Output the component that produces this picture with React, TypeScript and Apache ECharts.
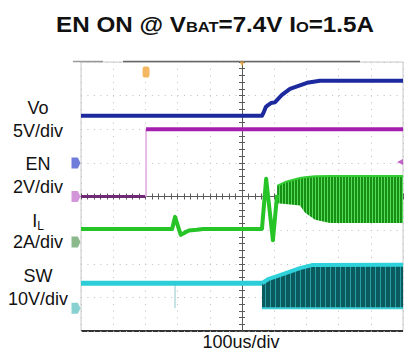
import React, { useEffect, useRef } from "react";
import * as echarts from "echarts";

const FONT = "'Liberation Sans', Arial, Helvetica, sans-serif";

// Horizontal axis: time in µs measured from the screen centre (100 µs/div, 10 div)
const TIME_MIN = -500;
const TIME_MAX = 500;
const TIME_PER_DIV = 100;
// Vertical axis: 8 divisions centred on 0
const DIV_HALF = 4;

// Channel scales (units per division) and ground-marker positions (div from centre)
const VO_SCALE = 5;
const VO_GROUND = 1.0;
const EN_SCALE = 2;
const EN_GROUND = 0.0;
const IL_SCALE = 2;
const IL_GROUND = -1.35;
const SW_SCALE = 10;
const SW_GROUND = -3.32;

// Vo (V)
const voTime = [-500, 62, 68, 74, 81, 90, 102, 124, 149, 202, 242, 500];
const voVolts = [7.0, 7.0, 7.6, 8.3, 8.6, 8.9, 9.0, 10.1, 11.0, 11.9, 12.2, 12.2];

// EN (V): low, rising edge, high
const enTime = [-500, -298, -298, 500];
const enVolts = [0, 0, 4.0, 4.0];
const enTrigLevel = 2.05;

// IL (A)
const ilTime = [-500, -217, -208, -200, -190, -178, -165, -140, -120, 62, 75, 96, 109];
const ilAmps = [0.77, 0.77, 1.49, 1.0, 0.42, 0.55, 0.68, 0.72, 0.77, 0.77, 3.75, 0.1, 2.8];
const ilBandTime = [109, 134, 180, 196, 227, 273, 500];
const ilBandTop = [3.33, 3.56, 3.8, 3.85, 3.9, 3.92, 3.92];
const ilBandBottom = [2.3, 2.25, 2.16, 1.73, 1.31, 1.13, 1.13];

// SW (V)
const swTime = [-500, 62];
const swVolts = [7.4, 7.4];
const swSpikeTime = [-208, -208];
const swSpikeVolts = [7.4, 0];
const swBandTime = [62, 81, 118, 180, 217, 500];
const swBandTop = [7.4, 8.6, 9.8, 11.9, 12.8, 12.9];
const swBandBottom = [0, 0, 0, 0, 0, 0];

// Trigger
const trigTime = -298;

const toDiv = (v: number, scale: number, ground: number) => ground + v / scale;

function pts(times: number[], vals: number[], scale: number, ground: number) {
  return times.map((t, i) => [t, toDiv(vals[i], scale, ground)]);
}

function stripe(w: number, bg: string, fg: string, fgW: number) {
  const c = document.createElement("canvas");
  c.width = w;
  c.height = 4;
  const g = c.getContext("2d")!;
  g.fillStyle = bg;
  g.fillRect(0, 0, w, 4);
  g.fillStyle = fg;
  g.fillRect(0, 0, fgW, 4);
  return c;
}

function band(times: number[], top: number[], bottom: number[], scale: number, ground: number, fill: any, z: number) {
  return {
    type: "custom",
    silent: true,
    z,
    clip: true,
    data: [[times[0], ground]],
    renderItem: (_p: any, api: any) => {
      const up = times.map((t, i) => api.coord([t, toDiv(top[i], scale, ground)]));
      const lo = times.map((t, i) => api.coord([t, toDiv(bottom[i], scale, ground)])).reverse();
      return { type: "polygon", shape: { points: up.concat(lo) }, style: { fill, stroke: null } };
    },
  };
}

function line(data: number[][], color: string, width: number, z = 3) {
  return {
    type: "line",
    data,
    symbol: "none",
    silent: true,
    z,
    lineStyle: { color, width, cap: "butt", join: "round" },
    animation: false,
  };
}

function marker(x: number, y: number, symbol: string, size: any, color: string, offset: number[], rotate = 0) {
  return {
    type: "scatter",
    data: [[x, y]],
    symbol,
    symbolSize: size,
    symbolOffset: offset,
    symbolRotate: rotate,
    itemStyle: { color },
    clip: false,
    silent: true,
    z: 6,
  };
}

export default function App() {
  const ref = useRef<HTMLDivElement>(null);
  useEffect(() => {
    const chart = echarts.init(ref.current!, undefined, { renderer: "svg" });
    const axisCommonX = {
      type: "value",
      min: TIME_MIN,
      max: TIME_MAX,
      interval: TIME_PER_DIV,
      axisLine: { onZero: true, lineStyle: { color: "#5a5a5a", width: 1 } },
      axisTick: { show: true, inside: true, length: 3, lineStyle: { color: "#5a5a5a" } },
      minorTick: { show: true, splitNumber: 5, length: 3, lineStyle: { color: "#5a5a5a" } },
      axisLabel: { show: false },
    };
    const axisCommonY = {
      type: "value",
      min: -DIV_HALF,
      max: DIV_HALF,
      interval: 1,
      axisLine: { onZero: true, lineStyle: { color: "#5a5a5a", width: 1 } },
      axisTick: { show: true, inside: true, length: 3, lineStyle: { color: "#5a5a5a" } },
      minorTick: { show: true, splitNumber: 5, length: 3, lineStyle: { color: "#5a5a5a" } },
      axisLabel: { show: false },
    };
    const ilFill = { image: stripe(3, "#178f17", "#55dd55", 1), repeat: "repeat" };
    const swFill = { image: stripe(5, "#0b5a5e", "#2a9ea6", 1), repeat: "repeat" };

    const enPts = pts(enTime, enVolts, EN_SCALE, EN_GROUND);

    const labelStyle = (text: string, x: number, y: number, rich?: any) => ({
      type: "text",
      silent: true,
      style: {
        text,
        x,
        y,
        align: "center",
        verticalAlign: "middle",
        font: `18px ${FONT}`,
        fill: "#111",
        rich,
      },
    });

    chart.setOption({
      animation: false,
      backgroundColor: "#ffffff",
      grid: {
        left: 81,
        right: 5,
        top: 62,
        bottom: 20,
        show: true,
        borderColor: "#c8c8c8",
        borderWidth: 1,
      },
      xAxis: [
        { ...axisCommonX, position: "bottom", splitLine: { show: true, lineStyle: { color: "#bcbcbc", width: 1, type: [1, 5.72] } } },
        { ...axisCommonX, position: "top", splitLine: { show: false } },
      ],
      yAxis: [
        { ...axisCommonY, position: "left", splitLine: { show: true, lineStyle: { color: "#bcbcbc", width: 1, type: [1, 5.44] } } },
        { ...axisCommonY, position: "right", splitLine: { show: false } },
      ],
      series: [
        // SW
        band(swBandTime, swBandTop, swBandBottom, SW_SCALE, SW_GROUND, swFill, 2),
        line(pts(swBandTime, swBandTop, SW_SCALE, SW_GROUND), "#2fd2da", 4),
        line(pts(swBandTime, swBandBottom, SW_SCALE, SW_GROUND), "#3ccfd6", 2),
        line(pts(swSpikeTime, swSpikeVolts, SW_SCALE, SW_GROUND), "#8fc7cc", 1),
        line(pts(swTime, swVolts, SW_SCALE, SW_GROUND), "#2ccdd6", 5),
        // IL
        band(ilBandTime, ilBandTop, ilBandBottom, IL_SCALE, IL_GROUND, ilFill, 2),
        line(pts(ilBandTime, ilBandTop, IL_SCALE, IL_GROUND), "#33cc33", 2),
        line(pts(ilTime, ilAmps, IL_SCALE, IL_GROUND), "#26c426", 4),
        // EN
        line(enPts.slice(0, 2), "#6e2a74", 3),
        line(enPts.slice(1, 3), "#e6bce6", 2),
        line(enPts.slice(2, 4), "#a41fae", 4),
        // Vo
        line(pts(voTime, voVolts, VO_SCALE, VO_GROUND), "#1c2a9e", 4),
        // ground markers
        marker(TIME_MIN, VO_GROUND, "path://M0,0H7L10,5L7,10H0Z", [9, 11], "#4b5bd0", [-5, 0]),
        marker(TIME_MIN, EN_GROUND, "path://M0,0H7L10,5L7,10H0Z", [9, 11], "#c77ccf", [-5, 0]),
        marker(TIME_MIN, IL_GROUND, "path://M0,0H7L10,5L7,10H0Z", [9, 11], "#6fa86f", [-5, 0]),
        marker(TIME_MIN, SW_GROUND, "path://M0,0H7L10,5L7,10H0Z", [9, 11], "#6cc6c6", [-5, 0]),
        // trigger markers
        marker(TIME_MAX, toDiv(enTrigLevel, EN_SCALE, EN_GROUND), "triangle", 6, "#b040b8", [-3, 0], 90),
        marker(trigTime, 3.7, "roundRect", [7, 11], "#f2a53a", [0, 0]),
        marker(0, DIV_HALF, "triangle", 5, "#f2a53a", [0, 2], 180),
      ],
      graphic: [
        { type: "line", silent: true, shape: { x1: 123, y1: 61.5, x2: 360, y2: 61.5 }, style: { stroke: "#666", lineWidth: 1.5 } },
        { type: "line", silent: true, shape: { x1: 73, y1: 61.5, x2: 103, y2: 61.5 }, style: { stroke: "#999", lineWidth: 1.5 } },
        { type: "line", silent: true, shape: { x1: 81, y1: 331, x2: 403, y2: 331 }, style: { stroke: "#333", lineWidth: 2 } },
        {
          type: "text",
          silent: true,
          x: 215,
          y: 22,
          scaleX: 1.1,
          style: {
            text: "{a|EN ON @ V}{b|BAT}{a|=7.4V I}{b|O}{a|=1.5A}",
            x: 0,
            y: 0,
            align: "center",
            verticalAlign: "middle",
            rich: {
              a: { fontFamily: FONT, fontSize: 22, fontWeight: "bold", fill: "#111", verticalAlign: "bottom", lineHeight: 26 },
              b: { fontFamily: FONT, fontSize: 15, fontWeight: "bold", fill: "#111", verticalAlign: "bottom", lineHeight: 26, padding: [0, 0, 1, 0] },
            },
          },
        },
        labelStyle("Vo", 38, 108),
        labelStyle("5V/div", 38, 131),
        labelStyle("EN", 38, 164),
        labelStyle("2V/div", 38, 187),
        {
          type: "text",
          silent: true,
          style: {
            text: "{a|I}{b|L}",
            x: 38,
            y: 219,
            align: "center",
            verticalAlign: "middle",
            rich: {
              a: { fontFamily: FONT, fontSize: 18, fill: "#111", verticalAlign: "bottom", lineHeight: 22 },
              b: { fontFamily: FONT, fontSize: 12, fill: "#111", verticalAlign: "bottom", lineHeight: 22, padding: [0, 0, -2, 0] },
            },
          },
        },
        labelStyle("2A/div", 38, 242),
        labelStyle("SW", 38, 276),
        labelStyle("10V/div", 38, 299),
        labelStyle("100us/div", 241, 342),
      ],
    });
    return () => chart.dispose();
  }, []);
  return <div ref={ref} style={{ position: "absolute", left: 0, top: 0, width: 408, height: 351 }} />;
}
